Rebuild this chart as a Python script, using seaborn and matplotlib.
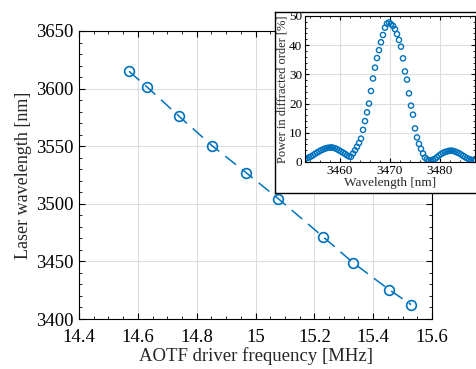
import numpy as np
import pandas as pd
import matplotlib
matplotlib.use("Agg")
import matplotlib.pyplot as plt
from matplotlib.ticker import MultipleLocator
import seaborn as sns

# Datos principales: frecuencia AOTF vs longitud de onda del laser
freq_mhz = [14.570, 14.631, 14.740, 14.852, 14.968, 15.077, 15.229, 15.331, 15.454, 15.529]
laser_nm = [3615.0, 3601.5, 3576.0, 3550.5, 3527.0, 3504.5, 3471.5, 3449.0, 3425.5, 3412.5]

# Datos del recuadro: potencia en el orden difractado
inset_wl = [3453.0, 3453.4, 3453.8, 3454.2, 3454.6, 3455.0, 3455.4, 3455.8, 3456.2, 3456.6,
            3457.0, 3457.4, 3457.8, 3458.2, 3458.6, 3459.0, 3459.4, 3459.8, 3460.2, 3460.6,
            3461.0, 3461.4, 3461.8, 3462.2, 3462.6, 3463.0, 3463.4, 3463.8, 3464.2, 3464.6,
            3465.0, 3465.4, 3465.8, 3466.2, 3466.6, 3467.0, 3467.4, 3467.8, 3468.2, 3468.6,
            3469.0, 3469.4, 3469.8, 3470.2, 3470.6, 3471.0, 3471.4, 3471.8, 3472.2, 3472.6,
            3473.0, 3473.4, 3473.8, 3474.2, 3474.6, 3475.0, 3475.4, 3475.8, 3476.2, 3476.6,
            3477.0, 3477.4, 3477.8, 3478.2, 3478.6, 3479.0, 3479.4, 3479.8, 3480.2, 3480.6,
            3481.0, 3481.4, 3481.8, 3482.2, 3482.6, 3483.0, 3483.4, 3483.8, 3484.2, 3484.6,
            3485.0, 3485.4, 3485.8, 3486.2, 3486.6, 3487.0]
inset_power = [1.1, 1.3, 1.6, 1.9, 2.3, 2.8, 3.2, 3.6, 4.0, 4.3,
               4.6, 4.8, 4.9, 5.0, 4.9, 4.7, 4.4, 4.0, 3.6, 3.2,
               2.8, 2.3, 1.9, 1.8, 2.9, 4.0, 5.2, 6.5, 8.0, 11.0,
               14.0, 17.0, 20.0, 24.3, 28.6, 32.3, 35.6, 38.3, 41.0, 43.5,
               46.0, 47.4, 47.8, 47.2, 46.6, 45.5, 43.8, 41.8, 39.5, 35.5,
               31.0, 28.2, 23.5, 19.3, 16.2, 11.5, 8.4, 6.2, 4.5, 2.9,
               1.5, 0.9, 0.6, 0.6, 0.8, 1.1, 1.6, 2.2, 2.7, 3.1,
               3.4, 3.6, 3.8, 3.9, 3.8, 3.6, 3.3, 3.0, 2.6, 2.1,
               1.7, 1.3, 1.0, 0.8, 0.6, 0.5]

BLUE = "#0072BD"
GRID = "#dddddd"


def style_axes(ax, fs):
    ax.tick_params(which="both", direction="in", top=True, right=True,
                   labelsize=fs, colors="black")
    ax.tick_params(which="major", length=4, width=0.8)
    ax.tick_params(which="minor", length=2, width=0.6)
    ax.grid(True, which="major", color=GRID, linewidth=0.8)
    ax.set_axisbelow(True)
    for s in ax.spines.values():
        s.set_color("black")
        s.set_linewidth(0.8)


def main():
    sns.set_style("ticks")
    plt.rcParams["font.family"] = ["Liberation Serif", "DejaVu Serif"]

    fig = plt.figure(figsize=(4.76, 3.69), dpi=100)
    fig.patch.set_facecolor("white")

    # Grafico principal
    ax = fig.add_axes([0.166, 0.1355, 0.7416, 0.7805])
    df = pd.DataFrame({"freq": freq_mhz, "wl": laser_nm})
    sns.lineplot(data=df, x="freq", y="wl", ax=ax, color=BLUE, linewidth=1.1,
                 marker="o", markersize=7, markerfacecolor="none",
                 markeredgecolor=BLUE, markeredgewidth=1.2)
    ax.lines[0].set_dashes([9, 5])
    ax.set_xlim(14.4, 15.6)
    ax.set_ylim(3400, 3650)
    ax.xaxis.set_minor_locator(MultipleLocator(0.05))
    ax.yaxis.set_major_locator(MultipleLocator(50))
    ax.yaxis.set_minor_locator(MultipleLocator(10))
    ax.set_xticks([14.4, 14.6, 14.8, 15.0, 15.2, 15.4, 15.6])
    ax.set_xticklabels(["14.4", "14.6", "14.8", "15", "15.2", "15.4", "15.6"])
    style_axes(ax, 13.5)
    ax.tick_params(axis="x", pad=7)
    ax.tick_params(axis="y", pad=4)
    ax.set_xlabel("AOTF driver frequency [MHz]", fontsize=13.5, labelpad=1)
    ax.set_ylabel("Laser wavelength [nm]", fontsize=13, labelpad=3)

    # Marco blanco del recuadro
    frame = fig.add_axes([0.578, 0.477, 0.45, 0.491])
    frame.set_facecolor("white")
    frame.set_xticks([])
    frame.set_yticks([])
    for s in frame.spines.values():
        s.set_color("black")
        s.set_linewidth(1.0)

    # Recuadro
    ins = fig.add_axes([0.6408, 0.561, 0.357, 0.3957])
    dfi = pd.DataFrame({"wl": inset_wl, "p": inset_power})
    sns.scatterplot(data=dfi, x="wl", y="p", ax=ins, marker="o", s=14,
                    facecolor="none", edgecolor=BLUE, linewidth=1.0)
    ins.set_xlim(3453, 3487)
    ins.set_ylim(0, 50)
    ins.xaxis.set_major_locator(MultipleLocator(10))
    ins.xaxis.set_minor_locator(MultipleLocator(2))
    ins.yaxis.set_major_locator(MultipleLocator(10))
    ins.yaxis.set_minor_locator(MultipleLocator(2))
    style_axes(ins, 9.5)
    ins.tick_params(which="major", length=3)
    ins.tick_params(which="minor", length=1.5)
    ins.tick_params(pad=2)
    ins.set_xlabel("Wavelength [nm]", fontsize=9.5, labelpad=0)
    ins.set_ylabel("Power in diffracted order [%]", fontsize=9, labelpad=0.5)

    plt.savefig("out.png", dpi=100)
    plt.close()


if __name__ == "__main__":
    main()
